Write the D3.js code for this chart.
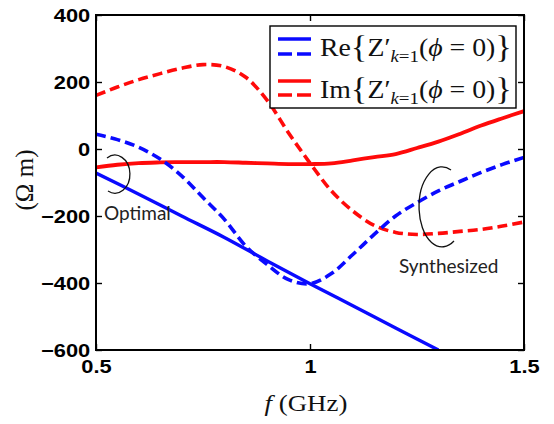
<!DOCTYPE html>
<html>
<head>
<meta charset="utf-8">
<script src="https://cdn.jsdelivr.net/npm/d3@7"></script>
<style>
  body { margin: 0; background: #fff; }
  svg { display: block; }
</style>
</head>
<body>
<svg id="chart" width="554" height="424"></svg>
<script>
// Frequency grid (GHz) shared by the synthesized curves and Im of the optimal impedance
const freq = [0.5, 0.55, 0.6, 0.65, 0.7, 0.75, 0.8, 0.85, 0.9, 0.95, 1.0,
              1.05, 1.1, 1.15, 1.2, 1.25, 1.3, 1.35, 1.4, 1.45, 1.5];

// Re{Z'} synthesized (dashed blue), Ω·m
const reSynth = [44, 28, 5, -30, -80, -145, -210, -290, -345, -390, -402,
                 -372, -315, -255, -200, -160, -125, -97, -70, -46, -25];

// Im{Z'} optimal (solid red), Ω·m
const imOptimal = [-55, -47, -42, -40, -39, -39, -39, -41, -43, -45, -45,
                   -43, -34, -24, -15, 3, 22, 45, 70, 92, 113];

// Im{Z'} synthesized (dashed red), Ω·m
const imSynth = [160, 185, 207, 225, 241, 252, 246, 214, 145, 48, -42,
                 -125, -185, -228, -249, -255, -252, -246, -240, -230, -218];

// Re{Z'} optimal (solid blue) runs off the bottom of the axes near 1.3 GHz
const freqReOpt = [0.5, 0.6, 0.7, 0.8, 0.9, 1.0, 1.1, 1.2, 1.3];
const reOptimal = [-72, -135, -200, -264, -334, -402, -468, -534, -600];

const xTicks = [0.5, 1, 1.5];
const xTickLabels = ["0.5", "1", "1.5"];
const yTicks = [-600, -400, -200, 0, 200, 400];

const svg = d3.select("#chart");
const box = { left: 96, right: 524, top: 15, bottom: 350 };

const x = d3.scaleLinear().domain([0.5, 1.5]).range([box.left, box.right]);
const y = d3.scaleLinear().domain([-600, 400]).range([box.bottom, box.top]);

svg.append("defs").append("clipPath").attr("id", "plotClip")
  .append("rect")
  .attr("x", box.left).attr("y", box.top)
  .attr("width", box.right - box.left).attr("height", box.bottom - box.top);

const BLUE = "#0a0aff";
const RED = "#ff0a0a";

// ---- curves ----
const line = d3.line()
  .x(d => x(d[0]))
  .y(d => y(d[1]))
  .curve(d3.curveCatmullRom.alpha(0.5));

const series = [
  { f: freq, v: imSynth, color: RED, dash: "10,5", w: 3.6 },
  { f: freq, v: imOptimal, color: RED, dash: null, w: 3.8 },
  { f: freqReOpt, v: reOptimal, color: BLUE, dash: null, w: 3.4 },
  { f: freq, v: reSynth, color: BLUE, dash: "10,5", w: 3.6 }
];

const plot = svg.append("g").attr("clip-path", "url(#plotClip)");
series.forEach(s => {
  plot.append("path")
    .datum(s.f.map((f, i) => [f, s.v[i]]))
    .attr("d", line)
    .attr("fill", "none")
    .attr("stroke", s.color)
    .attr("stroke-width", s.w)
    .attr("stroke-dasharray", s.dash);
});

// ---- axes (ticks point inward on all four sides) ----
const tickFont = "'Liberation Sans', Arial, sans-serif";
function styleAxis(g) {
  g.select(".domain").remove();
  g.selectAll(".tick line").attr("stroke", "#000").attr("stroke-width", 1.4);
  g.selectAll("text")
    .attr("font-family", tickFont)
    .attr("font-size", 19)
    .attr("font-weight", "bold")
    .attr("fill", "#000")
    .attr("transform", "scale(1.15,1)");
}

svg.append("g")
  .attr("transform", `translate(${box.left},0)`)
  .call(d3.axisLeft(y).tickValues(yTicks).tickSizeInner(-6).tickSizeOuter(0).tickPadding(5))
  .call(styleAxis);

svg.append("g")
  .attr("transform", `translate(${box.right},0)`)
  .call(d3.axisRight(y).tickValues(yTicks).tickSizeInner(-6).tickSizeOuter(0).tickFormat(""))
  .call(styleAxis);

svg.append("g")
  .attr("transform", `translate(0,${box.bottom})`)
  .call(d3.axisBottom(x).tickValues(xTicks).tickSizeInner(-6).tickSizeOuter(0)
        .tickPadding(10).tickFormat((d, i) => xTickLabels[i]))
  .call(styleAxis);

svg.append("g")
  .attr("transform", `translate(0,${box.top})`)
  .call(d3.axisTop(x).tickValues(xTicks).tickSizeInner(-6).tickSizeOuter(0).tickFormat(""))
  .call(styleAxis);

// frame
svg.append("rect")
  .attr("x", box.left).attr("y", box.top)
  .attr("width", box.right - box.left).attr("height", box.bottom - box.top)
  .attr("fill", "none").attr("stroke", "#000").attr("stroke-width", 2);

// ---- axis titles ----
const serif = "'Liberation Serif', 'Times New Roman', serif";

const xTitle = svg.append("text")
  .attr("x", 306).attr("y", 411)
  .attr("text-anchor", "middle")
  .attr("font-family", serif).attr("font-size", 24).attr("fill", "#111");
xTitle.append("tspan").attr("font-style", "italic").text("f");
xTitle.append("tspan").text(" (GHz)");
xTitle.attr("transform", "translate(306,0) scale(1.12,1) translate(-306,0)");

svg.append("text")
  .attr("transform", "translate(33,180) rotate(-90)")
  .attr("text-anchor", "middle")
  .attr("font-family", serif).attr("font-size", 25).attr("fill", "#111")
  .text("(Ω m)");

// ---- annotations ----
const note = "Lato, 'Open Sans', sans-serif";
svg.append("path")
  .attr("d", "M107,158 A15 19 0 1 1 108,191")
  .attr("fill", "none").attr("stroke", "#111").attr("stroke-width", 1.3);
svg.append("text")
  .attr("x", 104).attr("y", 220)
  .attr("font-family", note).attr("font-size", 19).attr("fill", "#222")
  .text("Optimal");

svg.append("path")
  .attr("d", "M451,170 A23 40 0 1 0 454,241")
  .attr("fill", "none").attr("stroke", "#111").attr("stroke-width", 1.3);
svg.append("text")
  .attr("x", 399).attr("y", 273)
  .attr("font-family", note).attr("font-size", 19).attr("fill", "#222")
  .text("Synthesized");

// ---- legend ----
const legend = svg.append("g");
legend.append("rect")
  .attr("x", 270).attr("y", 26).attr("width", 246).attr("height", 82)
  .attr("fill", "#fff").attr("stroke", "#000").attr("stroke-width", 1.4);

const legendRows = [
  { name: "Re", color: BLUE, ySolid: 39, yDash: 54, base: 56 },
  { name: "Im", color: RED, ySolid: 81, yDash: 95, base: 98 }
];

legendRows.forEach(r => {
  legend.append("line")
    .attr("x1", 278).attr("x2", 311).attr("y1", r.ySolid).attr("y2", r.ySolid)
    .attr("stroke", r.color).attr("stroke-width", 3.6);
  legend.append("line")
    .attr("x1", 278).attr("x2", 311).attr("y1", r.yDash).attr("y2", r.yDash)
    .attr("stroke", r.color).attr("stroke-width", 3.6)
    .attr("stroke-dasharray", "14,5");

  const t = legend.append("text")
    .attr("x", 320).attr("y", r.base)
    .attr("font-family", serif).attr("font-size", 25).attr("fill", "#111");
  t.append("tspan").text(r.name);
  t.append("tspan").attr("font-size", 31).attr("dy", 2).text("{");
  t.append("tspan").attr("dy", -2).text("Z′");
  t.append("tspan").attr("font-size", 17).attr("font-style", "italic")
    .attr("dx", 0).attr("dy", 6).text("k");
  t.append("tspan").attr("font-size", 17).text("=1");
  t.append("tspan").attr("dy", -6).text("(");
  t.append("tspan").attr("font-style", "italic").text("ϕ");
  t.append("tspan").text(" = 0)");
  t.append("tspan").attr("font-size", 31).attr("dy", 2).text("}");

  const w = t.node().getBBox().width;
  const s = 192 / w;
  t.attr("transform", `translate(320,0) scale(${s},1) translate(-320,0)`);
});
</script>
</body>
</html>
